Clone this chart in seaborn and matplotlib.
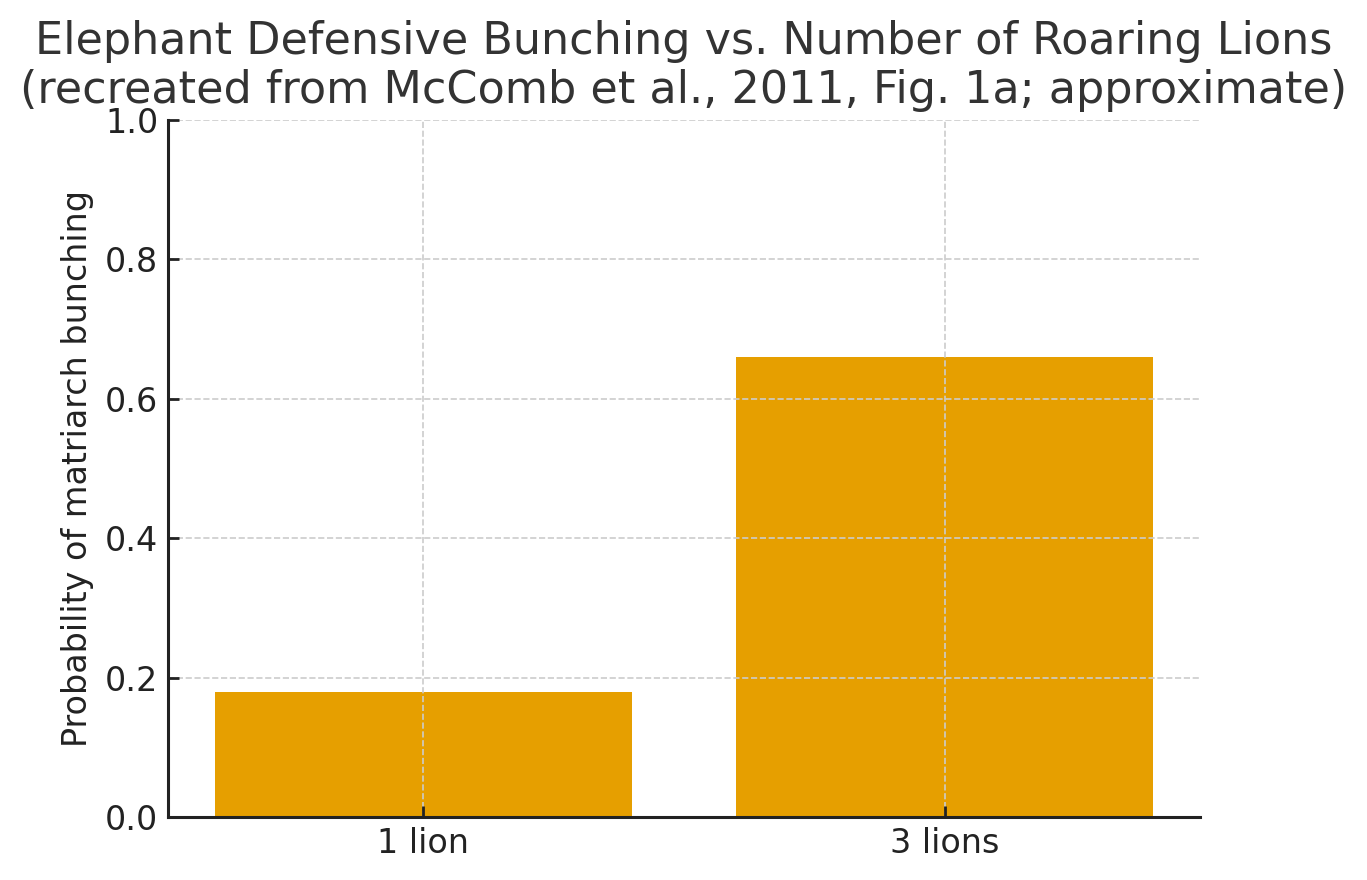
import matplotlib
matplotlib.use("Agg")
import matplotlib.pyplot as plt
import pandas as pd
import seaborn as sns

# data
groups = ["1 lion", "3 lions"]
prob_bunching = [0.18, 0.66]

df = pd.DataFrame({"group": groups, "prob": prob_bunching})

sns.set_style("ticks")
plt.rcParams["font.family"] = ["DejaVu Sans"]

fig = plt.figure(figsize=(6.835, 4.4), dpi=200)
ax = fig.add_axes([0.1229, 0.0716, 0.7549, 0.792])

sns.barplot(data=df, x="group", y="prob", color="#E69F00", saturation=1,
            width=0.8, linewidth=0, ax=ax)
for p in ax.patches:
    p.set_zorder(0.5)

ax.set_xlim(-0.49, 1.49)
ax.set_ylim(0, 1.0)
ax.set_yticks([0.0, 0.2, 0.4, 0.6, 0.8, 1.0])
ax.yaxis.set_major_formatter(matplotlib.ticker.FormatStrFormatter("%.1f"))
ax.set_axisbelow(False)
ax.grid(True, linestyle="--", color="#cccccc", linewidth=0.6)
ax.set_xlabel("")
ax.set_ylabel("Probability of matriarch bunching", fontsize=12, color="#222222")
ax.tick_params(labelsize=12, colors="#222222", direction="in", length=4, width=1)
ax.set_title("Elephant Defensive Bunching vs. Number of Roaring Lions\n"
             "(recreated from McComb et al., 2011, Fig. 1a; approximate)",
             fontsize=16, color="#333333", pad=6)
sns.despine(ax=ax)
for side in ["left", "bottom"]:
    ax.spines[side].set_linewidth(1.1)
    ax.spines[side].set_color("#222222")
    ax.spines[side].set_zorder(4)

fig.savefig("out.png", dpi=200)
